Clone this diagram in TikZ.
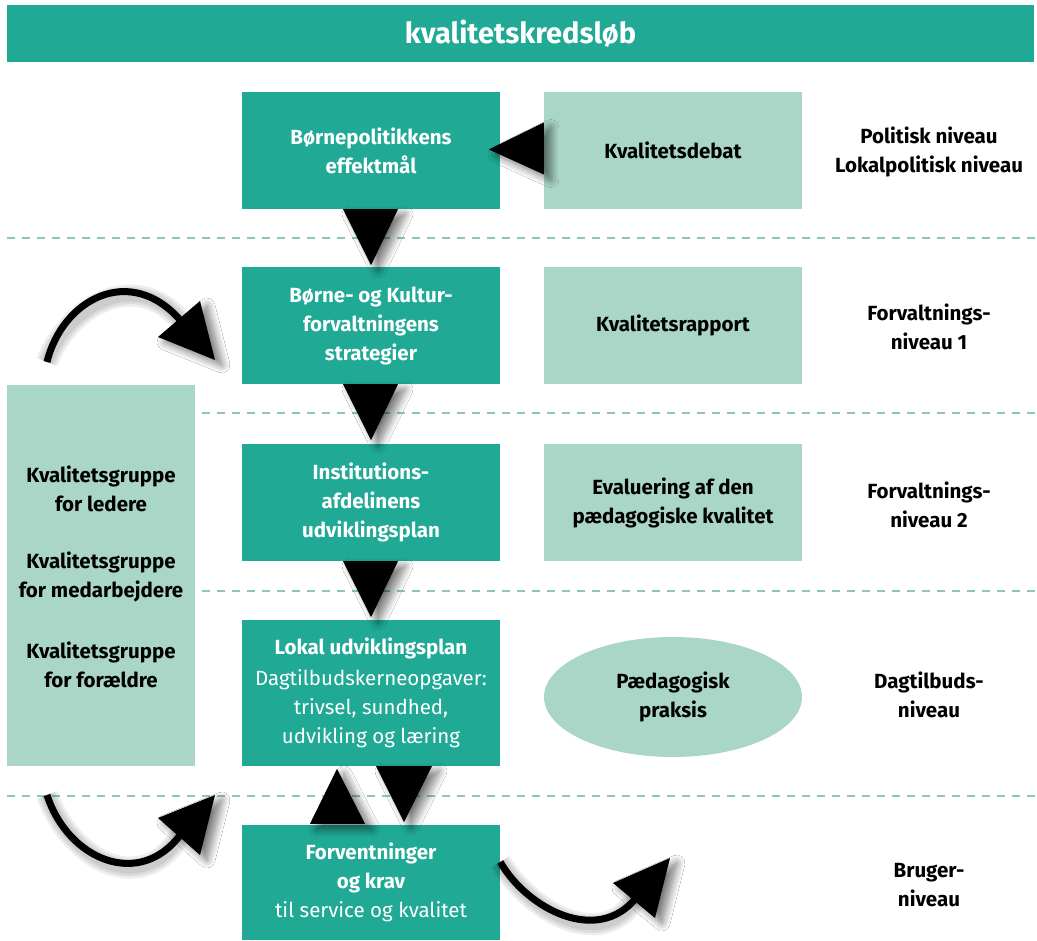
\documentclass[tikz,border=0pt]{standalone}
\usepackage{fontspec}
\setmainfont{Fira Sans}
\usetikzlibrary{shadows.blur,calc,shapes.geometric}
\definecolor{tealA}{HTML}{20A995}
\definecolor{tealB}{HTML}{AAD6C8}
\definecolor{dashc}{HTML}{8CC6BE}
\begin{document}
\begin{tikzpicture}[x=1pt,y=-1pt,
  darkbox/.style={fill=tealA, text=white, minimum width=258pt, minimum height=117pt, inner sep=0pt, align=center, font=\bfseries\fontsize{20.5}{29}\selectfont},
  lightbox/.style={fill=tealB, text=black, minimum width=258pt, minimum height=117pt, inner sep=0pt, align=center, font=\bfseries\fontsize{20.5}{29}\selectfont},
  lbl/.style={text=black, align=center, font=\bfseries\fontsize{20.5}{29}\selectfont},
  sep/.style={dashc, line width=2pt, dash pattern=on 8pt off 7pt},
  tri/.style={fill=black, blur shadow={shadow xshift=7pt, shadow yshift=-5pt, shadow blur steps=14, shadow blur radius=8pt, shadow opacity=55}},
  shaft/.style={line width=7pt, black},
  shafts/.style={line width=#1, black, opacity=0.07},
]
\useasboundingbox (0,0) rectangle (1037,941);
\fill[white] (0,0) rectangle (1037,941);

% dashed separators
\draw[sep] (7,238) -- (1037,238);
\draw[sep] (7,413) -- (1037,413);
\draw[sep] (7,591) -- (1037,591);
\draw[sep] (7,796) -- (1037,796);

% title
\node[fill=tealA, text=white, minimum width=1027pt, minimum height=57pt, inner sep=0pt, font=\bfseries\fontsize{29}{32}\selectfont] (title) at (520.5,33.5) {kvalitetskredsløb};

% main boxes
\node[darkbox] (b1) at (371,150.5) {Børnepolitikkens\\effektmål};
\node[darkbox] (b2) at (371,325.5) {Børne- og Kultur-\\forvaltningens\\strategier};
\node[darkbox] (b3) at (371,502.5) {Institutions-\\afdelinens\\udviklingsplan};
\node[darkbox, minimum height=146pt] (b4) at (371,693) {Lokal udviklingsplan\\[2pt]\mdseries Dagtilbudskerneopgaver:\\\mdseries trivsel, sundhed,\\\mdseries udvikling og læring};
\node[darkbox, minimum height=115pt] (b5) at (371,882.5) {Forventninger\\og krav\\\mdseries til service og kvalitet};

% light boxes
\node[lightbox] (l1) at (673,150.5) {Kvalitetsdebat};
\node[lightbox] (l2) at (673,325.5) {Kvalitetsrapport};
\node[lightbox] (l3) at (673,502.5) {Evaluering af den\\pædagogiske kvalitet};
\node[lightbox, ellipse, minimum width=258pt, minimum height=120pt] (e1) at (673,697) {Pædagogisk\\praksis};

% left box
\node[lightbox, minimum width=188pt, minimum height=381pt] (lb) at (101,575.5) {};
\node[lbl] (g1) at (101,489) {Kvalitetsgruppe\\for ledere};
\node[lbl] (g2) at (101,577) {Kvalitetsgruppe\\for medarbejdere};
\node[lbl] (g3) at (101,665) {Kvalitetsgruppe\\for forældre};

% right labels
\node[lbl] (r1) at (929,151.5) {Politisk niveau\\Lokalpolitisk niveau};
\node[lbl] (r2) at (929,326.5) {Forvaltnings-\\niveau 1};
\node[lbl] (r3) at (929,504.5) {Forvaltnings-\\niveau 2};
\node[lbl] (r4) at (929,694.5) {Dagtilbuds-\\niveau};
\node[lbl] (r5) at (929,885.5) {Bruger-\\niveau};

% triangle arrows
\fill[tri] ($(b1.south)+(-28,0)$) -- ($(b1.south)+(27,0)$) -- ($(b1.south)+(0,56)$) -- cycle;
\fill[tri] ($(b2.south)+(-28,0)$) -- ($(b2.south)+(27,0)$) -- ($(b2.south)+(0,56)$) -- cycle;
\fill[tri] ($(b3.south)+(-28,0)$) -- ($(b3.south)+(27,0)$) -- ($(b3.south)+(0,56)$) -- cycle;
\fill[tri] ($(b5.north)+(-61,-1)$) -- ($(b5.north)+(-6,-1)$) -- ($(b5.north)+(-34,-56)$) -- cycle;
\fill[tri] ($(b4.south)+(5,0)$) -- ($(b4.south)+(61,0)$) -- ($(b4.south)+(33,56)$) -- cycle;
\fill[tri] ($(l1.west)+(0,-28)$) -- ($(l1.west)+(0,24)$) -- ($(l1.west)+(-55,-1)$) -- cycle;

% curved arrows
\coordinate (c1s) at (47,362);
\coordinate (c1e) at (181,321);
\coordinate (c2s) at (47,795);
\coordinate (c2e) at (181,834);
\coordinate (c3s) at (b5.east |- 0,862);
\coordinate (c3e) at (636,898);
\foreach \w in {22,17,12}{
  \draw[shafts=\w pt, shift={(6,6)}] (c1s) .. controls (62,300) and (130,262) .. (c1e);
  \draw[shafts=\w pt, shift={(6,6)}] (c2s) .. controls (68,860) and (140,890) .. (c2e);
  \draw[shafts=\w pt, shift={(6,6)}] (c3s) .. controls (528,910) and (598,945) .. (c3e);
}
\draw[shaft] (c1s) .. controls (62,300) and (130,262) .. (c1e);
\draw[shaft] (c2s) .. controls (68,860) and (140,890) .. (c2e);
\draw[shaft] (c3s) .. controls (528,910) and (598,945) .. (c3e);
\fill[tri] (158,337) -- (200,301) -- (215,360) -- cycle;
\fill[tri] (158,818) -- (215,795) -- (200,855) -- cycle;
\fill[tri] (613,883) -- (670,858) -- (655,918) -- cycle;
\end{tikzpicture}
\end{document}
